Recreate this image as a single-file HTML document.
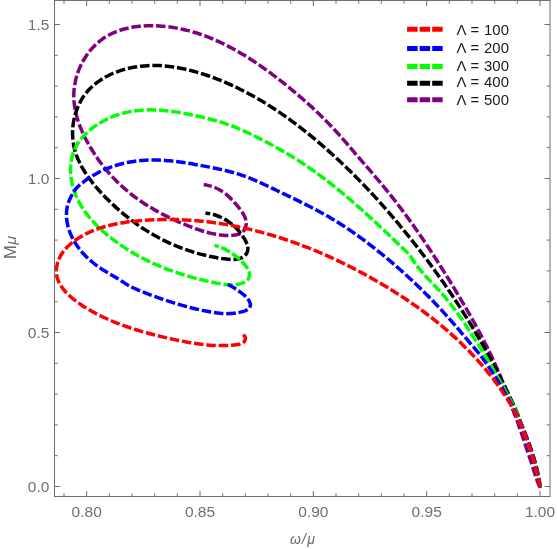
<!DOCTYPE html>
<html><head><meta charset="utf-8"><title>plot</title>
<style>html,body{margin:0;padding:0;background:#fff;}body{width:557px;height:549px;position:relative;overflow:hidden;font-family:"Liberation Sans",sans-serif;}</style></head>
<body>
<svg width="557" height="549" viewBox="0 0 557 549" style="position:absolute;left:0;top:0;will-change:transform">
<rect x="0" y="0" width="557" height="549" fill="#fff"/>
<clipPath id="c"><rect x="54.5" y="0.5" width="495.5" height="496.0"/></clipPath>
<g clip-path="url(#c)" fill="none" stroke-width="3.5" stroke-dasharray="9.53 2.84" stroke-linejoin="round">
<path d="M539.90,487.60C539.65,486.98 538.89,485.11 538.40,483.86C537.91,482.61 537.42,481.36 536.96,480.10C536.49,478.84 536.06,477.57 535.62,476.29C535.19,475.02 534.76,473.75 534.36,472.47C533.95,471.19 533.58,469.90 533.20,468.61C532.82,467.32 532.45,466.03 532.06,464.74C531.66,463.46 531.24,462.18 530.81,460.91C530.38,459.64 529.93,458.37 529.49,457.10C529.05,455.83 528.62,454.56 528.18,453.29C527.75,452.02 527.32,450.75 526.89,449.48C526.46,448.20 526.03,446.93 525.61,445.65C525.18,444.38 524.76,443.11 524.33,441.83C523.91,440.56 523.48,439.28 523.06,438.01C522.64,436.73 522.22,435.46 521.80,434.18C521.37,432.91 520.94,431.63 520.51,430.36C520.07,429.09 519.62,427.83 519.17,426.56C518.73,425.29 518.28,424.03 517.82,422.76C517.36,421.50 516.90,420.24 516.43,418.98C515.95,417.73 515.46,416.48 514.97,415.22C514.49,413.97 513.99,412.73 513.50,411.47C513.02,410.22 512.53,408.97 512.07,407.71C511.60,406.45 511.16,405.18 510.71,403.91C510.26,402.65 509.82,401.38 509.37,400.11C508.92,398.85 508.46,397.58 508.01,396.32C507.55,395.06 507.09,393.79 506.62,392.53C506.16,391.27 505.69,390.01 505.22,388.76C504.74,387.50 504.27,386.24 503.78,384.99C503.30,383.74 502.81,382.49 502.32,381.24C501.83,379.99 501.33,378.74 500.82,377.49C500.32,376.25 499.81,375.01 499.29,373.77C498.78,372.53 498.26,371.29 497.73,370.05C497.20,368.82 496.67,367.58 496.13,366.35C495.58,365.13 495.04,363.90 494.49,362.67C493.93,361.45 493.38,360.23 492.81,359.01C492.25,357.79 491.68,356.57 491.10,355.36C490.53,354.14 489.95,352.93 489.36,351.72C488.78,350.51 488.19,349.31 487.59,348.10C487.00,346.90 486.40,345.70 485.79,344.50C485.19,343.30 484.58,342.10 483.97,340.90C483.35,339.71 482.74,338.52 482.11,337.33C481.49,336.14 480.87,334.95 480.24,333.76C479.61,332.57 478.97,331.39 478.33,330.21C477.70,329.03 477.05,327.84 476.41,326.67C475.77,325.49 475.12,324.31 474.47,323.14C473.81,321.96 473.16,320.79 472.50,319.62C471.84,318.45 471.18,317.28 470.52,316.11C469.86,314.94 469.19,313.77 468.52,312.61C467.85,311.44 467.18,310.28 466.51,309.12C465.83,307.96 465.16,306.79 464.48,305.63C463.80,304.48 463.12,303.32 462.44,302.16C461.76,301.00 461.07,299.85 460.39,298.69C459.70,297.54 459.01,296.38 458.33,295.23C457.64,294.08 456.95,292.92 456.25,291.77C455.56,290.62 454.87,289.47 454.17,288.32C453.48,287.17 452.78,286.02 452.08,284.87C451.39,283.73 450.69,282.58 449.99,281.43C449.28,280.29 448.58,279.14 447.88,278.00C447.17,276.86 446.47,275.71 445.76,274.57C445.05,273.43 444.34,272.29 443.63,271.15C442.91,270.01 442.20,268.87 441.48,267.74C440.77,266.60 440.05,265.47 439.33,264.33C438.61,263.20 437.89,262.07 437.16,260.93C436.44,259.80 435.71,258.67 434.99,257.54C434.26,256.41 433.53,255.29 432.79,254.16C432.06,253.04 431.33,251.91 430.59,250.79C429.85,249.67 429.11,248.55 428.37,247.43C427.63,246.31 426.88,245.19 426.13,244.07C425.39,242.96 424.64,241.84 423.89,240.73C423.13,239.61 422.38,238.50 421.62,237.39C420.86,236.28 420.10,235.18 419.34,234.07C418.58,232.96 417.81,231.86 417.05,230.76C416.28,229.66 415.51,228.56 414.73,227.46C413.96,226.36 413.18,225.26 412.40,224.17C411.62,223.08 410.84,221.98 410.06,220.89C409.27,219.80 408.48,218.72 407.69,217.63C406.90,216.55 406.10,215.46 405.31,214.38C404.51,213.30 403.71,212.22 402.91,211.15C402.10,210.07 401.30,208.99 400.49,207.92C399.68,206.85 398.86,205.78 398.05,204.72C397.23,203.65 396.41,202.58 395.59,201.52C394.76,200.46 393.94,199.40 393.11,198.35C392.28,197.29 391.44,196.24 390.61,195.19C389.77,194.13 388.93,193.09 388.09,192.04C387.24,191.00 386.40,189.95 385.54,188.91C384.69,187.87 383.84,186.84 382.98,185.80C382.13,184.77 381.26,183.74 380.40,182.71C379.54,181.68 378.67,180.65 377.81,179.62C376.94,178.60 376.07,177.58 375.20,176.55C374.33,175.53 373.45,174.51 372.58,173.49C371.70,172.47 370.83,171.45 369.95,170.44C369.07,169.42 368.19,168.40 367.31,167.39C366.43,166.37 365.56,165.36 364.68,164.34C363.80,163.33 362.92,162.31 362.04,161.30C361.16,160.28 360.28,159.26 359.40,158.25C358.52,157.23 357.64,156.22 356.76,155.20C355.89,154.18 355.01,153.16 354.13,152.15C353.26,151.13 352.39,150.11 351.51,149.08C350.64,148.06 349.77,147.04 348.89,146.02C348.02,145.00 347.14,143.98 346.27,142.96C345.39,141.95 344.51,140.93 343.63,139.92C342.75,138.90 341.87,137.89 340.98,136.89C340.09,135.88 339.19,134.87 338.30,133.88C337.40,132.88 336.49,131.88 335.58,130.89C334.68,129.91 333.76,128.92 332.84,127.94C331.92,126.96 331.00,125.99 330.07,125.02C329.14,124.05 328.20,123.08 327.26,122.12C326.32,121.16 325.38,120.21 324.43,119.26C323.48,118.31 322.53,117.36 321.57,116.42C320.61,115.48 319.65,114.54 318.68,113.61C317.71,112.68 316.74,111.75 315.76,110.83C314.79,109.91 313.81,108.99 312.82,108.08C311.84,107.16 310.85,106.25 309.85,105.35C308.86,104.44 307.86,103.54 306.86,102.65C305.86,101.75 304.86,100.86 303.85,99.97C302.84,99.09 301.83,98.20 300.81,97.33C299.79,96.45 298.77,95.57 297.75,94.70C296.73,93.83 295.70,92.97 294.67,92.10C293.64,91.24 292.61,90.38 291.57,89.53C290.53,88.68 289.49,87.83 288.45,86.98C287.41,86.13 286.36,85.29 285.31,84.45C284.26,83.62 283.21,82.78 282.15,81.95C281.10,81.12 280.04,80.29 278.98,79.47C277.92,78.64 276.85,77.82 275.78,77.01C274.72,76.19 273.64,75.38 272.57,74.58C271.49,73.77 270.42,72.97 269.33,72.17C268.25,71.38 267.17,70.59 266.08,69.80C264.99,69.02 263.89,68.23 262.80,67.46C261.70,66.69 260.60,65.92 259.49,65.15C258.39,64.39 257.28,63.63 256.16,62.88C255.05,62.13 253.93,61.39 252.81,60.65C251.68,59.92 250.56,59.19 249.42,58.46C248.29,57.74 247.15,57.03 246.01,56.32C244.87,55.61 243.72,54.91 242.57,54.22C241.42,53.53 240.26,52.84 239.10,52.17C237.94,51.50 236.77,50.83 235.60,50.17C234.43,49.52 233.25,48.87 232.07,48.23C230.89,47.59 229.70,46.96 228.51,46.35C227.32,45.73 226.12,45.12 224.91,44.52C223.71,43.93 222.50,43.34 221.29,42.76C220.07,42.19 218.85,41.63 217.63,41.07C216.41,40.52 215.18,39.98 213.94,39.45C212.71,38.93 211.46,38.41 210.22,37.91C208.97,37.40 207.72,36.91 206.47,36.44C205.21,35.96 203.95,35.50 202.68,35.05C201.42,34.60 200.15,34.17 198.87,33.75C197.59,33.33 196.31,32.92 195.03,32.53C193.74,32.14 192.45,31.77 191.16,31.41C189.86,31.05 188.56,30.70 187.26,30.38C185.96,30.05 184.65,29.74 183.34,29.44C182.03,29.15 180.72,28.87 179.40,28.61C178.08,28.35 176.76,28.10 175.44,27.88C174.11,27.65 172.78,27.44 171.45,27.25C170.13,27.06 168.79,26.89 167.46,26.73C166.12,26.58 164.79,26.44 163.45,26.32C162.11,26.20 160.77,26.10 159.43,26.02C158.09,25.94 156.75,25.88 155.41,25.83C154.06,25.79 152.72,25.77 151.38,25.77C150.03,25.77 148.69,25.78 147.35,25.83C146.00,25.87 144.66,25.93 143.32,26.02C141.98,26.10 140.64,26.21 139.31,26.35C137.97,26.48 136.63,26.64 135.30,26.83C133.98,27.02 132.65,27.23 131.33,27.47C130.01,27.72 128.69,27.98 127.38,28.29C126.07,28.59 124.77,28.91 123.47,29.28C122.18,29.64 120.90,30.03 119.62,30.46C118.35,30.89 117.09,31.35 115.84,31.85C114.59,32.34 113.36,32.88 112.14,33.44C110.92,34.01 109.72,34.62 108.54,35.26C107.37,35.91 106.20,36.59 105.07,37.31C103.94,38.02 102.83,38.78 101.74,39.58C100.66,40.37 99.60,41.20 98.58,42.07C97.55,42.93 96.55,43.83 95.58,44.76C94.61,45.69 93.67,46.65 92.76,47.64C91.85,48.63 90.97,49.64 90.12,50.68C89.27,51.72 88.45,52.79 87.66,53.88C86.87,54.96 86.11,56.07 85.38,57.20C84.66,58.33 83.96,59.48 83.30,60.65C82.63,61.82 82.00,63.00 81.40,64.20C80.80,65.41 80.24,66.63 79.70,67.86C79.17,69.09 78.67,70.34 78.20,71.60C77.74,72.86 77.31,74.13 76.91,75.41C76.51,76.70 76.15,77.99 75.83,79.30C75.50,80.60 75.21,81.91 74.97,83.23C74.72,84.55 74.50,85.88 74.33,87.21C74.16,88.54 74.03,89.88 73.94,91.22C73.85,92.56 73.80,93.90 73.79,95.25C73.78,96.59 73.81,97.93 73.88,99.28C73.95,100.62 74.05,101.96 74.20,103.29C74.34,104.63 74.52,105.96 74.73,107.29C74.94,108.61 75.19,109.93 75.46,111.25C75.74,112.56 76.05,113.87 76.39,115.17C76.72,116.47 77.09,117.77 77.48,119.05C77.87,120.33 78.29,121.61 78.73,122.88C79.17,124.15 79.64,125.41 80.13,126.66C80.62,127.91 81.13,129.15 81.66,130.39C82.19,131.62 82.74,132.85 83.31,134.06C83.88,135.28 84.47,136.49 85.07,137.69C85.68,138.89 86.30,140.08 86.93,141.26C87.57,142.44 88.22,143.62 88.89,144.78C89.56,145.95 90.24,147.11 90.93,148.26C91.63,149.41 92.33,150.55 93.05,151.69C93.77,152.82 94.50,153.95 95.25,155.07C95.99,156.18 96.75,157.29 97.52,158.40C98.29,159.50 99.07,160.59 99.87,161.67C100.66,162.75 101.47,163.83 102.29,164.89C103.11,165.96 103.94,167.01 104.78,168.06C105.63,169.10 106.49,170.13 107.36,171.16C108.22,172.18 109.11,173.20 110.00,174.20C110.89,175.20 111.80,176.20 112.72,177.18C113.63,178.16 114.56,179.13 115.50,180.09C116.44,181.05 117.40,181.99 118.36,182.93C119.32,183.87 120.30,184.79 121.28,185.70C122.27,186.61 123.27,187.51 124.28,188.40C125.28,189.29 126.30,190.17 127.33,191.03C128.36,191.89 129.40,192.74 130.45,193.58C131.50,194.42 132.56,195.24 133.63,196.06C134.70,196.87 135.78,197.67 136.87,198.45C137.96,199.24 139.06,200.02 140.16,200.78C141.27,201.54 142.38,202.29 143.50,203.03C144.63,203.77 145.76,204.50 146.89,205.21C148.03,205.93 149.17,206.63 150.32,207.32C151.47,208.02 152.63,208.70 153.80,209.37C154.96,210.04 156.13,210.70 157.30,211.35C158.48,212.00 159.66,212.64 160.85,213.27C162.03,213.91 163.22,214.53 164.42,215.14C165.62,215.75 166.82,216.35 168.02,216.94C169.23,217.53 170.44,218.12 171.65,218.69C172.87,219.26 174.09,219.83 175.31,220.38C176.53,220.94 177.76,221.49 178.99,222.03C180.22,222.57 181.46,223.10 182.69,223.62C183.93,224.14 185.17,224.66 186.41,225.17C187.66,225.67 188.91,226.17 190.16,226.66C191.41,227.15 192.66,227.63 193.92,228.10C195.18,228.56 196.45,229.02 197.72,229.46C198.99,229.89 200.26,230.32 201.54,230.72C202.82,231.13 204.11,231.51 205.40,231.88C206.69,232.24 207.99,232.59 209.30,232.91C210.60,233.23 211.91,233.52 213.23,233.79C214.55,234.06 215.87,234.30 217.19,234.52C218.52,234.73 219.85,234.92 221.19,235.07C222.52,235.22 223.86,235.35 225.20,235.43C226.54,235.52 227.88,235.57 229.23,235.55C230.57,235.53 231.92,235.47 233.25,235.32C234.58,235.17 235.93,234.99 237.22,234.64C238.50,234.28 239.84,233.88 240.96,233.19C242.08,232.50 243.15,231.56 243.94,230.52C244.73,229.47 245.32,228.18 245.70,226.92C246.08,225.65 246.25,224.26 246.22,222.94C246.20,221.62 245.91,220.26 245.53,218.98C245.16,217.70 244.59,216.46 243.98,215.27C243.37,214.07 242.64,212.93 241.90,211.82C241.16,210.70 240.34,209.63 239.52,208.57C238.70,207.50 237.84,206.47 236.98,205.44C236.12,204.41 235.24,203.39 234.35,202.39C233.45,201.39 232.54,200.40 231.60,199.44C230.67,198.48 229.71,197.53 228.72,196.62C227.73,195.71 226.72,194.83 225.67,193.99C224.62,193.15 223.54,192.35 222.43,191.60C221.32,190.85 220.17,190.14 218.99,189.50C217.82,188.85 216.60,188.26 215.37,187.74C214.13,187.21 212.87,186.75 211.59,186.35C210.30,185.95 209.00,185.62 207.68,185.35C206.37,185.08 204.37,184.83 203.70,184.72" stroke="#800080"/>
<path d="M539.90,487.60C539.86,486.93 539.81,484.91 539.68,483.58C539.56,482.24 539.35,480.91 539.12,479.59C538.89,478.27 538.59,476.96 538.31,475.64C538.04,474.33 537.77,473.01 537.47,471.70C537.17,470.39 536.86,469.09 536.53,467.79C536.20,466.48 535.85,465.19 535.50,463.89C535.15,462.59 534.80,461.30 534.43,460.01C534.05,458.72 533.68,457.43 533.28,456.15C532.89,454.86 532.47,453.58 532.05,452.31C531.63,451.03 531.20,449.76 530.76,448.49C530.32,447.22 529.87,445.96 529.41,444.70C528.95,443.44 528.48,442.18 528.01,440.92C527.53,439.66 527.05,438.41 526.57,437.16C526.08,435.91 525.58,434.66 525.09,433.41C524.59,432.16 524.10,430.91 523.61,429.66C523.12,428.41 522.64,427.16 522.15,425.91C521.67,424.65 521.17,423.41 520.68,422.15C520.20,420.90 519.72,419.65 519.24,418.39C518.77,417.14 518.30,415.88 517.81,414.62C517.32,413.37 516.83,412.12 516.31,410.89C515.78,409.65 515.22,408.43 514.66,407.21C514.10,405.99 513.54,404.77 512.97,403.56C512.40,402.34 511.83,401.12 511.26,399.91C510.69,398.69 510.11,397.48 509.54,396.27C508.96,395.05 508.38,393.84 507.80,392.63C507.21,391.42 506.63,390.21 506.04,389.01C505.45,387.80 504.86,386.59 504.26,385.39C503.67,384.19 503.07,382.98 502.47,381.78C501.87,380.58 501.27,379.38 500.66,378.18C500.05,376.98 499.44,375.79 498.83,374.59C498.22,373.40 497.60,372.20 496.99,371.01C496.37,369.82 495.75,368.63 495.12,367.44C494.50,366.25 493.87,365.06 493.24,363.88C492.61,362.69 491.97,361.51 491.34,360.33C490.70,359.14 490.06,357.96 489.42,356.78C488.77,355.61 488.13,354.43 487.48,353.25C486.83,352.08 486.18,350.90 485.52,349.73C484.86,348.56 484.21,347.39 483.54,346.22C482.88,345.05 482.22,343.89 481.55,342.72C480.88,341.56 480.21,340.39 479.54,339.23C478.86,338.07 478.19,336.91 477.51,335.75C476.83,334.59 476.14,333.44 475.46,332.28C474.77,331.13 474.08,329.98 473.39,328.82C472.70,327.67 472.00,326.52 471.30,325.38C470.61,324.23 469.91,323.08 469.20,321.94C468.50,320.80 467.79,319.65 467.08,318.51C466.37,317.37 465.66,316.24 464.95,315.10C464.23,313.96 463.51,312.83 462.79,311.69C462.07,310.56 461.35,309.43 460.62,308.30C459.89,307.17 459.16,306.04 458.43,304.92C457.70,303.79 456.96,302.67 456.23,301.55C455.49,300.42 454.75,299.30 454.00,298.18C453.26,297.07 452.52,295.95 451.77,294.83C451.02,293.72 450.27,292.61 449.51,291.50C448.76,290.38 448.00,289.28 447.24,288.17C446.48,287.06 445.72,285.96 444.95,284.85C444.19,283.75 443.42,282.65 442.65,281.55C441.88,280.45 441.11,279.35 440.33,278.25C439.56,277.15 438.78,276.06 438.00,274.97C437.22,273.88 436.43,272.78 435.65,271.70C434.86,270.61 434.07,269.52 433.28,268.43C432.49,267.35 431.70,266.27 430.90,265.18C430.10,264.10 429.30,263.02 428.50,261.95C427.70,260.87 426.90,259.79 426.09,258.72C425.29,257.65 424.48,256.57 423.66,255.50C422.85,254.43 422.04,253.36 421.22,252.30C420.41,251.23 419.59,250.17 418.77,249.11C417.94,248.04 417.12,246.98 416.29,245.92C415.47,244.86 414.64,243.81 413.81,242.75C412.98,241.70 412.14,240.65 411.31,239.59C410.47,238.54 409.63,237.49 408.79,236.45C407.95,235.40 407.11,234.35 406.26,233.31C405.42,232.27 404.57,231.23 403.72,230.19C402.87,229.15 402.02,228.11 401.16,227.07C400.31,226.04 399.45,225.00 398.59,223.97C397.73,222.94 396.87,221.91 396.00,220.89C395.14,219.86 394.27,218.83 393.40,217.81C392.53,216.79 391.66,215.77 390.78,214.75C389.91,213.73 389.03,212.71 388.15,211.70C387.27,210.68 386.38,209.67 385.50,208.66C384.61,207.65 383.72,206.65 382.83,205.64C381.94,204.64 381.05,203.64 380.15,202.64C379.26,201.64 378.36,200.64 377.45,199.64C376.55,198.65 375.65,197.66 374.74,196.67C373.83,195.68 372.92,194.69 372.01,193.70C371.10,192.72 370.18,191.74 369.26,190.76C368.34,189.78 367.42,188.80 366.50,187.83C365.57,186.85 364.65,185.88 363.72,184.91C362.79,183.94 361.85,182.98 360.92,182.01C359.98,181.05 359.04,180.09 358.10,179.13C357.16,178.17 356.22,177.22 355.27,176.27C354.32,175.32 353.37,174.37 352.42,173.42C351.46,172.48 350.51,171.53 349.55,170.59C348.59,169.65 347.63,168.72 346.66,167.78C345.70,166.85 344.73,165.92 343.76,164.99C342.78,164.06 341.81,163.14 340.83,162.22C339.86,161.30 338.87,160.38 337.89,159.47C336.91,158.55 335.92,157.64 334.93,156.73C333.94,155.82 332.95,154.92 331.95,154.02C330.96,153.12 329.96,152.22 328.96,151.33C327.95,150.43 326.95,149.54 325.94,148.66C324.93,147.77 323.92,146.88 322.91,146.00C321.89,145.12 320.87,144.25 319.85,143.38C318.83,142.50 317.81,141.63 316.78,140.77C315.75,139.90 314.72,139.04 313.69,138.19C312.66,137.33 311.62,136.47 310.58,135.63C309.54,134.78 308.50,133.93 307.45,133.09C306.40,132.25 305.35,131.41 304.30,130.58C303.24,129.75 302.18,128.92 301.12,128.10C300.06,127.28 299.00,126.46 297.93,125.64C296.86,124.83 295.79,124.02 294.71,123.22C293.64,122.41 292.56,121.61 291.47,120.82C290.39,120.03 289.30,119.24 288.21,118.45C287.12,117.67 286.03,116.89 284.93,116.12C283.83,115.35 282.73,114.58 281.62,113.82C280.52,113.06 279.41,112.30 278.29,111.55C277.18,110.80 276.06,110.06 274.94,109.32C273.82,108.58 272.69,107.85 271.56,107.12C270.43,106.40 269.30,105.68 268.16,104.96C267.02,104.25 265.88,103.54 264.73,102.84C263.59,102.14 262.44,101.45 261.28,100.76C260.13,100.08 258.97,99.40 257.81,98.72C256.65,98.05 255.48,97.39 254.31,96.73C253.14,96.07 251.96,95.42 250.79,94.78C249.61,94.13 248.42,93.50 247.24,92.87C246.05,92.24 244.86,91.62 243.66,91.01C242.47,90.40 241.27,89.79 240.06,89.19C238.86,88.60 237.65,88.01 236.44,87.43C235.23,86.85 234.02,86.28 232.80,85.72C231.58,85.16 230.35,84.60 229.13,84.06C227.90,83.51 226.67,82.98 225.43,82.45C224.20,81.92 222.96,81.41 221.71,80.90C220.47,80.39 219.22,79.89 217.97,79.40C216.72,78.91 215.47,78.43 214.21,77.96C212.95,77.49 211.69,77.03 210.43,76.58C209.16,76.13 207.89,75.69 206.62,75.26C205.35,74.83 204.07,74.41 202.79,74.00C201.51,73.59 200.23,73.19 198.94,72.81C197.66,72.42 196.37,72.04 195.08,71.68C193.78,71.32 192.49,70.97 191.19,70.63C189.89,70.30 188.58,69.97 187.28,69.66C185.97,69.35 184.66,69.06 183.34,68.78C182.03,68.50 180.71,68.24 179.39,67.99C178.07,67.74 176.75,67.51 175.43,67.30C174.10,67.08 172.77,66.88 171.44,66.70C170.11,66.53 168.78,66.36 167.44,66.22C166.11,66.08 164.77,65.96 163.43,65.86C162.09,65.75 160.75,65.67 159.41,65.61C158.07,65.55 156.72,65.51 155.38,65.49C154.04,65.47 152.69,65.48 151.35,65.50C150.01,65.53 148.67,65.58 147.33,65.65C145.99,65.73 144.65,65.82 143.31,65.95C141.97,66.07 140.64,66.21 139.30,66.38C137.97,66.55 136.64,66.75 135.32,66.97C133.99,67.19 132.67,67.44 131.36,67.71C130.04,67.98 128.73,68.28 127.43,68.60C126.13,68.92 124.83,69.27 123.54,69.65C122.25,70.02 120.97,70.42 119.69,70.85C118.42,71.28 117.16,71.73 115.90,72.21C114.65,72.70 113.41,73.20 112.18,73.74C110.95,74.28 109.73,74.85 108.53,75.45C107.32,76.04 106.13,76.67 104.96,77.32C103.79,77.98 102.64,78.67 101.50,79.39C100.37,80.10 99.25,80.85 98.16,81.64C97.07,82.42 96.00,83.23 94.96,84.08C93.92,84.93 92.90,85.81 91.92,86.72C90.93,87.63 89.98,88.58 89.06,89.56C88.14,90.54 87.25,91.55 86.41,92.59C85.56,93.63 84.75,94.71 83.98,95.81C83.21,96.91 82.48,98.04 81.79,99.19C81.10,100.34 80.45,101.51 79.83,102.71C79.22,103.90 78.64,105.12 78.11,106.35C77.57,107.58 77.08,108.83 76.62,110.09C76.16,111.35 75.74,112.63 75.36,113.92C74.99,115.21 74.64,116.51 74.34,117.82C74.04,119.12 73.78,120.44 73.55,121.77C73.33,123.09 73.14,124.42 73.00,125.76C72.85,127.09 72.75,128.43 72.68,129.77C72.61,131.11 72.59,132.46 72.60,133.80C72.61,135.14 72.66,136.48 72.76,137.82C72.85,139.16 72.99,140.50 73.17,141.83C73.34,143.16 73.56,144.49 73.82,145.81C74.08,147.12 74.39,148.43 74.73,149.73C75.08,151.03 75.47,152.31 75.89,153.59C76.31,154.86 76.77,156.13 77.26,157.37C77.76,158.62 78.29,159.86 78.85,161.08C79.40,162.30 79.99,163.51 80.61,164.70C81.23,165.89 81.87,167.07 82.54,168.24C83.21,169.40 83.91,170.55 84.62,171.69C85.34,172.82 86.08,173.94 86.83,175.05C87.59,176.16 88.37,177.26 89.16,178.34C89.95,179.42 90.77,180.50 91.59,181.55C92.42,182.61 93.26,183.66 94.11,184.70C94.97,185.73 95.83,186.76 96.71,187.77C97.59,188.79 98.48,189.80 99.38,190.79C100.28,191.79 101.19,192.78 102.11,193.75C103.03,194.73 103.96,195.70 104.89,196.67C105.83,197.63 106.77,198.59 107.72,199.54C108.67,200.49 109.63,201.43 110.60,202.36C111.56,203.30 112.53,204.22 113.51,205.14C114.49,206.06 115.48,206.97 116.48,207.87C117.47,208.77 118.48,209.66 119.49,210.55C120.50,211.43 121.52,212.31 122.54,213.17C123.57,214.04 124.60,214.90 125.65,215.74C126.69,216.59 127.74,217.43 128.79,218.25C129.85,219.08 130.92,219.90 131.99,220.71C133.06,221.52 134.14,222.31 135.23,223.10C136.32,223.89 137.42,224.66 138.52,225.43C139.62,226.19 140.73,226.95 141.85,227.69C142.97,228.44 144.10,229.17 145.23,229.89C146.36,230.61 147.50,231.32 148.65,232.02C149.80,232.72 150.95,233.40 152.11,234.08C153.27,234.75 154.44,235.41 155.62,236.07C156.79,236.72 157.97,237.35 159.16,237.98C160.35,238.61 161.54,239.22 162.74,239.82C163.95,240.42 165.15,241.01 166.37,241.59C167.58,242.17 168.80,242.73 170.02,243.28C171.25,243.83 172.48,244.37 173.71,244.90C174.95,245.42 176.19,245.94 177.43,246.44C178.68,246.94 179.93,247.43 181.19,247.91C182.44,248.38 183.70,248.85 184.97,249.30C186.23,249.75 187.50,250.18 188.78,250.61C190.05,251.03 191.33,251.44 192.61,251.84C193.89,252.24 195.18,252.63 196.47,253.00C197.76,253.37 199.06,253.73 200.35,254.08C201.65,254.42 202.95,254.75 204.26,255.07C205.56,255.39 206.87,255.69 208.18,255.98C209.49,256.27 210.81,256.55 212.12,256.81C213.44,257.07 214.76,257.32 216.08,257.56C217.41,257.79 218.73,258.01 220.06,258.21C221.39,258.42 222.72,258.61 224.05,258.78C225.38,258.95 226.71,259.13 228.05,259.25C229.39,259.36 230.73,259.48 232.07,259.48C233.41,259.48 234.76,259.44 236.09,259.25C237.41,259.07 238.76,258.82 240.02,258.39C241.28,257.96 242.58,257.43 243.65,256.67C244.72,255.90 245.74,254.90 246.43,253.80C247.12,252.70 247.60,251.33 247.80,250.04C247.99,248.75 247.84,247.34 247.58,246.04C247.31,244.74 246.76,243.48 246.22,242.26C245.68,241.03 244.99,239.86 244.31,238.71C243.63,237.55 242.90,236.42 242.13,235.32C241.37,234.22 240.56,233.14 239.71,232.10C238.87,231.06 237.99,230.04 237.07,229.06C236.15,228.08 235.19,227.14 234.21,226.23C233.22,225.32 232.20,224.44 231.14,223.61C230.09,222.78 229.01,221.98 227.89,221.23C226.78,220.49 225.63,219.78 224.47,219.12C223.30,218.46 222.10,217.84 220.88,217.28C219.66,216.72 218.42,216.20 217.16,215.74C215.90,215.28 214.62,214.87 213.32,214.52C212.03,214.17 210.71,213.88 209.39,213.64C208.07,213.41 206.06,213.20 205.40,213.11" stroke="#000000"/>
<path d="M539.90,487.60C539.86,486.93 539.79,484.92 539.65,483.59C539.51,482.25 539.30,480.93 539.06,479.61C538.83,478.29 538.52,476.98 538.24,475.67C537.97,474.36 537.70,473.04 537.40,471.74C537.11,470.43 536.80,469.12 536.47,467.82C536.15,466.52 535.81,465.22 535.46,463.93C535.12,462.63 534.77,461.34 534.41,460.05C534.04,458.76 533.67,457.47 533.28,456.18C532.90,454.90 532.49,453.62 532.08,452.35C531.67,451.07 531.24,449.80 530.80,448.53C530.37,447.26 529.92,446.00 529.47,444.74C529.01,443.48 528.55,442.22 528.07,440.96C527.60,439.71 527.12,438.46 526.63,437.21C526.14,435.96 525.64,434.72 525.14,433.47C524.64,432.23 524.13,430.99 523.63,429.74C523.13,428.50 522.64,427.25 522.13,426.01C521.63,424.77 521.11,423.53 520.60,422.29C520.09,421.05 519.58,419.81 519.07,418.57C518.56,417.33 518.07,416.08 517.54,414.85C517.02,413.62 516.49,412.38 515.92,411.17C515.36,409.95 514.75,408.76 514.15,407.56C513.55,406.36 512.93,405.17 512.32,403.97C511.71,402.78 511.09,401.59 510.46,400.41C509.84,399.22 509.21,398.03 508.58,396.85C507.95,395.67 507.32,394.49 506.68,393.31C506.04,392.13 505.40,390.95 504.75,389.77C504.11,388.60 503.46,387.43 502.81,386.25C502.15,385.08 501.50,383.91 500.84,382.75C500.18,381.58 499.52,380.41 498.86,379.25C498.19,378.08 497.52,376.92 496.85,375.76C496.19,374.59 495.51,373.43 494.84,372.27C494.17,371.12 493.49,369.96 492.81,368.80C492.13,367.64 491.45,366.49 490.77,365.34C490.09,364.18 489.40,363.03 488.72,361.88C488.03,360.72 487.34,359.57 486.66,358.42C485.97,357.27 485.28,356.12 484.59,354.97C483.89,353.82 483.20,352.67 482.51,351.53C481.81,350.38 481.12,349.23 480.42,348.09C479.72,346.95 479.02,345.80 478.31,344.66C477.61,343.52 476.90,342.38 476.19,341.24C475.48,340.11 474.77,338.97 474.06,337.84C473.34,336.70 472.62,335.57 471.90,334.44C471.17,333.31 470.44,332.19 469.71,331.06C468.98,329.94 468.24,328.82 467.50,327.70C466.76,326.58 466.02,325.47 465.27,324.36C464.52,323.25 463.76,322.14 463.00,321.04C462.24,319.93 461.47,318.83 460.70,317.74C459.92,316.64 459.15,315.55 458.36,314.46C457.58,313.37 456.79,312.29 455.99,311.21C455.19,310.14 454.39,309.06 453.58,307.99C452.77,306.93 451.95,305.86 451.12,304.81C450.30,303.75 449.47,302.70 448.63,301.65C447.79,300.60 446.94,299.56 446.09,298.53C445.24,297.50 444.37,296.47 443.50,295.45C442.64,294.43 441.76,293.41 440.87,292.41C439.99,291.40 439.09,290.40 438.19,289.41C437.29,288.42 436.38,287.43 435.46,286.45C434.55,285.47 433.62,284.50 432.70,283.53C431.77,282.56 430.84,281.59 429.92,280.62C428.99,279.65 428.07,278.68 427.15,277.71C426.23,276.73 425.32,275.75 424.41,274.76C423.51,273.76 422.61,272.77 421.73,271.75C420.86,270.74 419.99,269.72 419.14,268.68C418.30,267.64 417.47,266.58 416.67,265.51C415.87,264.43 415.08,263.34 414.34,262.23C413.60,261.11 412.94,259.94 412.20,258.82C411.46,257.70 410.74,256.57 409.91,255.52C409.08,254.47 408.14,253.51 407.21,252.54C406.28,251.58 405.29,250.67 404.33,249.74C403.36,248.80 402.39,247.88 401.42,246.95C400.45,246.02 399.49,245.10 398.52,244.17C397.55,243.24 396.58,242.31 395.61,241.39C394.64,240.46 393.67,239.53 392.70,238.61C391.73,237.68 390.76,236.76 389.79,235.83C388.82,234.91 387.85,233.98 386.88,233.06C385.90,232.14 384.93,231.22 383.96,230.30C382.98,229.37 382.01,228.45 381.03,227.54C380.05,226.62 379.07,225.70 378.09,224.78C377.12,223.87 376.13,222.95 375.15,222.04C374.17,221.13 373.19,220.22 372.20,219.31C371.22,218.40 370.23,217.49 369.24,216.58C368.25,215.68 367.26,214.77 366.27,213.87C365.28,212.97 364.28,212.07 363.29,211.17C362.29,210.27 361.29,209.38 360.29,208.49C359.29,207.59 358.29,206.70 357.28,205.82C356.28,204.93 355.27,204.04 354.26,203.16C353.25,202.28 352.24,201.40 351.23,200.52C350.21,199.65 349.19,198.77 348.17,197.90C347.15,197.03 346.13,196.17 345.10,195.30C344.08,194.44 343.05,193.58 342.02,192.73C340.98,191.87 339.95,191.02 338.91,190.17C337.87,189.32 336.83,188.47 335.79,187.63C334.74,186.79 333.69,185.96 332.64,185.12C331.59,184.29 330.54,183.46 329.48,182.64C328.42,181.82 327.36,181.00 326.29,180.18C325.23,179.37 324.16,178.56 323.09,177.75C322.02,176.95 320.94,176.15 319.86,175.35C318.78,174.56 317.70,173.77 316.61,172.98C315.52,172.20 314.43,171.42 313.33,170.65C312.24,169.87 311.14,169.11 310.04,168.34C308.93,167.58 307.83,166.83 306.72,166.07C305.60,165.32 304.49,164.58 303.37,163.84C302.25,163.10 301.13,162.37 300.00,161.64C298.88,160.91 297.75,160.19 296.61,159.47C295.48,158.76 294.34,158.05 293.20,157.34C292.06,156.63 290.92,155.93 289.77,155.24C288.62,154.55 287.47,153.86 286.32,153.17C285.17,152.49 284.01,151.81 282.85,151.14C281.69,150.46 280.53,149.80 279.36,149.14C278.20,148.47 277.03,147.82 275.86,147.16C274.68,146.51 273.51,145.87 272.33,145.22C271.15,144.58 269.97,143.95 268.79,143.32C267.61,142.68 266.42,142.06 265.23,141.44C264.05,140.82 262.85,140.20 261.66,139.59C260.47,138.98 259.27,138.37 258.07,137.77C256.87,137.17 255.67,136.57 254.47,135.98C253.27,135.39 252.06,134.81 250.85,134.23C249.64,133.65 248.43,133.08 247.21,132.52C245.99,131.95 244.77,131.40 243.55,130.85C242.32,130.30 241.10,129.76 239.86,129.24C238.63,128.71 237.39,128.19 236.15,127.68C234.91,127.17 233.67,126.68 232.42,126.19C231.17,125.71 229.91,125.24 228.65,124.78C227.39,124.32 226.12,123.88 224.85,123.45C223.58,123.02 222.31,122.60 221.03,122.20C219.75,121.80 218.46,121.42 217.18,121.04C215.89,120.67 214.60,120.31 213.30,119.96C212.01,119.61 210.71,119.27 209.41,118.94C208.11,118.61 206.81,118.29 205.51,117.98C204.20,117.67 202.90,117.36 201.59,117.06C200.28,116.75 198.98,116.46 197.67,116.17C196.36,115.87 195.05,115.59 193.74,115.31C192.43,115.03 191.11,114.75 189.80,114.48C188.49,114.22 187.17,113.96 185.85,113.70C184.54,113.45 183.22,113.21 181.90,112.98C180.58,112.74 179.26,112.52 177.93,112.30C176.61,112.09 175.28,111.89 173.96,111.70C172.63,111.51 171.30,111.33 169.97,111.16C168.64,111.00 167.31,110.85 165.97,110.71C164.64,110.57 163.30,110.45 161.97,110.34C160.63,110.24 159.29,110.14 157.95,110.07C156.61,110.00 155.27,109.94 153.93,109.91C152.59,109.87 151.25,109.85 149.91,109.85C148.57,109.86 147.23,109.88 145.89,109.92C144.55,109.97 143.21,110.04 141.87,110.13C140.53,110.22 139.20,110.33 137.86,110.47C136.53,110.61 135.20,110.78 133.87,110.97C132.55,111.16 131.22,111.38 129.90,111.62C128.59,111.87 127.27,112.14 125.97,112.44C124.66,112.75 123.36,113.08 122.07,113.44C120.78,113.80 119.49,114.18 118.22,114.60C116.94,115.02 115.68,115.46 114.42,115.94C113.17,116.41 111.93,116.91 110.69,117.44C109.46,117.97 108.24,118.53 107.04,119.12C105.83,119.71 104.64,120.32 103.46,120.96C102.28,121.60 101.12,122.27 99.97,122.96C98.83,123.66 97.70,124.38 96.58,125.13C95.47,125.87 94.37,126.64 93.29,127.44C92.22,128.24 91.16,129.06 90.12,129.91C89.08,130.76 88.07,131.64 87.08,132.54C86.09,133.45 85.13,134.38 84.20,135.35C83.27,136.32 82.36,137.31 81.51,138.34C80.65,139.37 79.82,140.43 79.05,141.52C78.28,142.62 77.54,143.75 76.87,144.91C76.20,146.06 75.58,147.26 75.02,148.47C74.46,149.69 73.95,150.94 73.50,152.20C73.05,153.46 72.66,154.75 72.32,156.04C71.97,157.34 71.69,158.65 71.45,159.97C71.21,161.29 71.03,162.62 70.89,163.95C70.75,165.28 70.66,166.62 70.62,167.96C70.58,169.30 70.58,170.65 70.63,171.98C70.68,173.32 70.77,174.66 70.90,176.00C71.04,177.33 71.21,178.66 71.43,179.98C71.64,181.31 71.90,182.63 72.19,183.93C72.48,185.24 72.82,186.54 73.18,187.83C73.55,189.12 73.96,190.40 74.40,191.66C74.84,192.93 75.32,194.18 75.84,195.42C76.35,196.66 76.90,197.89 77.48,199.09C78.06,200.30 78.67,201.50 79.31,202.67C79.96,203.85 80.63,205.01 81.33,206.15C82.03,207.30 82.76,208.43 83.51,209.54C84.26,210.65 85.04,211.74 85.83,212.82C86.63,213.89 87.45,214.95 88.29,216.00C89.13,217.04 90.00,218.07 90.88,219.08C91.75,220.10 92.65,221.09 93.57,222.07C94.48,223.05 95.41,224.02 96.36,224.97C97.30,225.92 98.26,226.86 99.23,227.79C100.20,228.71 101.19,229.62 102.18,230.52C103.18,231.41 104.19,232.30 105.21,233.17C106.22,234.04 107.25,234.90 108.29,235.75C109.33,236.60 110.38,237.44 111.43,238.26C112.49,239.09 113.55,239.91 114.63,240.71C115.70,241.51 116.78,242.30 117.88,243.08C118.97,243.86 120.07,244.63 121.17,245.39C122.28,246.14 123.39,246.89 124.52,247.62C125.64,248.36 126.77,249.08 127.91,249.79C129.04,250.50 130.19,251.20 131.34,251.89C132.49,252.58 133.65,253.25 134.81,253.92C135.97,254.58 137.14,255.24 138.32,255.88C139.50,256.52 140.68,257.16 141.87,257.78C143.06,258.40 144.25,259.01 145.45,259.61C146.65,260.21 147.85,260.80 149.06,261.38C150.27,261.95 151.49,262.52 152.71,263.08C153.93,263.63 155.15,264.18 156.38,264.72C157.61,265.25 158.84,265.78 160.08,266.30C161.32,266.81 162.56,267.32 163.81,267.81C165.05,268.31 166.30,268.80 167.56,269.27C168.81,269.75 170.07,270.22 171.33,270.67C172.59,271.13 173.85,271.58 175.12,272.02C176.39,272.45 177.66,272.88 178.93,273.30C180.20,273.72 181.48,274.13 182.76,274.54C184.04,274.94 185.32,275.33 186.60,275.71C187.89,276.10 189.18,276.47 190.47,276.84C191.76,277.21 193.05,277.57 194.34,277.92C195.64,278.27 196.93,278.61 198.23,278.94C199.53,279.28 200.83,279.60 202.13,279.92C203.44,280.24 204.74,280.55 206.05,280.85C207.35,281.15 208.66,281.45 209.97,281.74C211.28,282.02 212.59,282.30 213.91,282.57C215.22,282.85 216.53,283.12 217.85,283.37C219.17,283.62 220.48,283.87 221.81,284.08C223.13,284.29 224.46,284.48 225.79,284.62C227.13,284.76 228.47,284.87 229.81,284.90C231.14,284.93 232.49,284.92 233.83,284.83C235.16,284.73 236.50,284.57 237.81,284.32C239.13,284.07 240.45,283.76 241.71,283.32C242.97,282.89 244.28,282.42 245.37,281.69C246.46,280.96 247.55,280.01 248.25,278.92C248.94,277.83 249.43,276.44 249.55,275.16C249.66,273.87 249.34,272.46 248.91,271.22C248.48,269.98 247.71,268.82 246.97,267.71C246.23,266.60 245.34,265.58 244.47,264.56C243.61,263.54 242.69,262.55 241.76,261.59C240.82,260.63 239.86,259.69 238.87,258.79C237.88,257.88 236.87,257.01 235.82,256.17C234.78,255.33 233.70,254.52 232.60,253.76C231.50,253.00 230.37,252.27 229.22,251.58C228.07,250.90 226.89,250.26 225.69,249.66C224.49,249.05 223.27,248.50 222.03,247.98C220.79,247.47 219.54,247.00 218.27,246.57C217.00,246.13 215.06,245.59 214.42,245.39" stroke="#00ff00"/>
<path d="M539.90,487.60C539.85,486.93 539.77,484.92 539.63,483.59C539.48,482.25 539.27,480.93 539.03,479.61C538.79,478.29 538.48,476.98 538.20,475.67C537.92,474.36 537.65,473.05 537.35,471.74C537.06,470.43 536.74,469.13 536.42,467.83C536.10,466.52 535.75,465.23 535.41,463.93C535.07,462.64 534.72,461.34 534.36,460.05C533.99,458.76 533.62,457.47 533.24,456.18C532.85,454.90 532.45,453.62 532.03,452.35C531.62,451.07 531.19,449.80 530.75,448.53C530.32,447.26 529.87,446.00 529.41,444.74C528.95,443.48 528.48,442.22 528.00,440.97C527.52,439.72 527.04,438.47 526.54,437.22C526.04,435.98 525.53,434.74 525.02,433.50C524.51,432.26 524.00,431.02 523.49,429.78C522.97,428.54 522.47,427.30 521.94,426.06C521.42,424.83 520.88,423.60 520.33,422.38C519.78,421.15 519.22,419.94 518.65,418.72C518.08,417.51 517.50,416.30 516.91,415.09C516.32,413.89 515.73,412.69 515.12,411.49C514.52,410.29 513.91,409.10 513.29,407.91C512.67,406.72 512.04,405.53 511.41,404.35C510.78,403.17 510.14,401.99 509.49,400.81C508.85,399.64 508.20,398.46 507.54,397.30C506.88,396.13 506.22,394.96 505.55,393.80C504.88,392.64 504.20,391.48 503.52,390.33C502.84,389.17 502.15,388.02 501.46,386.87C500.76,385.72 500.06,384.58 499.36,383.44C498.66,382.30 497.95,381.15 497.24,380.02C496.53,378.88 495.82,377.74 495.10,376.61C494.38,375.48 493.65,374.35 492.92,373.23C492.19,372.11 491.45,370.99 490.71,369.87C489.96,368.76 489.21,367.65 488.45,366.54C487.69,365.43 486.93,364.33 486.16,363.23C485.39,362.14 484.61,361.04 483.83,359.95C483.05,358.86 482.27,357.77 481.46,356.70C480.66,355.62 479.85,354.55 479.02,353.50C478.19,352.45 477.32,351.43 476.46,350.40C475.60,349.37 474.71,348.36 473.84,347.35C472.96,346.33 472.08,345.32 471.21,344.30C470.33,343.29 469.47,342.26 468.59,341.25C467.72,340.23 466.83,339.22 465.96,338.20C465.09,337.19 464.22,336.16 463.36,335.14C462.49,334.11 461.65,333.07 460.79,332.04C459.93,331.01 459.06,329.99 458.20,328.96C457.33,327.94 456.46,326.92 455.58,325.90C454.71,324.89 453.83,323.87 452.95,322.86C452.07,321.85 451.19,320.84 450.30,319.84C449.41,318.83 448.52,317.83 447.62,316.83C446.73,315.83 445.83,314.84 444.93,313.85C444.02,312.85 443.12,311.86 442.21,310.88C441.30,309.89 440.39,308.91 439.47,307.93C438.56,306.95 437.64,305.97 436.71,305.00C435.79,304.03 434.87,303.06 433.94,302.09C433.01,301.12 432.07,300.16 431.14,299.20C430.20,298.24 429.26,297.28 428.32,296.33C427.38,295.37 426.43,294.42 425.48,293.48C424.53,292.53 423.58,291.59 422.62,290.64C421.67,289.70 420.71,288.77 419.75,287.83C418.78,286.90 417.82,285.97 416.85,285.04C415.88,284.11 414.91,283.19 413.93,282.27C412.96,281.35 411.98,280.43 411.00,279.52C410.02,278.60 409.03,277.69 408.04,276.79C407.05,275.88 406.06,274.98 405.07,274.08C404.08,273.18 403.08,272.28 402.08,271.39C401.08,270.49 400.07,269.60 399.07,268.72C398.06,267.83 397.05,266.95 396.04,266.07C395.03,265.19 394.01,264.32 392.99,263.44C391.97,262.57 390.95,261.70 389.93,260.84C388.90,259.97 387.87,259.11 386.84,258.25C385.81,257.39 384.78,256.54 383.74,255.69C382.70,254.84 381.67,253.99 380.62,253.15C379.58,252.30 378.53,251.46 377.49,250.63C376.44,249.79 375.39,248.96 374.33,248.13C373.28,247.30 372.22,246.48 371.16,245.66C370.10,244.84 369.03,244.02 367.96,243.21C366.90,242.40 365.82,241.59 364.75,240.79C363.67,239.99 362.60,239.19 361.51,238.40C360.43,237.61 359.35,236.82 358.26,236.04C357.17,235.26 356.08,234.48 354.98,233.71C353.88,232.94 352.78,232.17 351.68,231.41C350.57,230.65 349.46,229.89 348.35,229.14C347.24,228.40 346.12,227.65 345.00,226.92C343.88,226.18 342.76,225.45 341.63,224.72C340.50,224.00 339.37,223.28 338.23,222.57C337.09,221.86 335.95,221.15 334.81,220.46C333.66,219.76 332.51,219.07 331.36,218.38C330.20,217.70 329.05,217.02 327.88,216.35C326.72,215.69 325.56,215.02 324.39,214.37C323.22,213.71 322.04,213.06 320.87,212.42C319.69,211.78 318.51,211.14 317.33,210.51C316.14,209.88 314.96,209.25 313.77,208.63C312.58,208.01 311.39,207.39 310.19,206.78C309.00,206.17 307.81,205.56 306.61,204.96C305.41,204.35 304.21,203.75 303.01,203.16C301.81,202.56 300.61,201.97 299.40,201.38C298.20,200.78 296.99,200.20 295.79,199.61C294.58,199.02 293.37,198.44 292.17,197.86C290.96,197.27 289.75,196.69 288.54,196.11C287.33,195.53 286.12,194.96 284.91,194.38C283.70,193.80 282.49,193.22 281.28,192.64C280.07,192.06 278.86,191.48 277.65,190.90C276.44,190.32 275.24,189.74 274.03,189.16C272.82,188.58 271.61,188.00 270.40,187.42C269.19,186.84 267.98,186.26 266.77,185.69C265.56,185.11 264.34,184.54 263.13,183.98C261.91,183.41 260.69,182.85 259.47,182.30C258.25,181.75 257.02,181.20 255.79,180.67C254.56,180.13 253.33,179.60 252.09,179.09C250.85,178.58 249.61,178.07 248.36,177.59C247.11,177.10 245.86,176.62 244.60,176.17C243.34,175.71 242.07,175.27 240.80,174.84C239.53,174.42 238.25,174.01 236.96,173.62C235.68,173.23 234.39,172.86 233.10,172.50C231.81,172.14 230.51,171.79 229.21,171.46C227.92,171.12 226.61,170.80 225.31,170.49C224.00,170.18 222.70,169.88 221.39,169.59C220.08,169.30 218.77,169.02 217.46,168.74C216.14,168.46 214.83,168.20 213.51,167.93C212.20,167.67 210.88,167.41 209.57,167.15C208.25,166.90 206.93,166.65 205.62,166.39C204.30,166.14 202.98,165.89 201.66,165.65C200.34,165.40 199.03,165.16 197.71,164.91C196.39,164.67 195.07,164.44 193.75,164.21C192.43,163.97 191.10,163.75 189.78,163.53C188.46,163.31 187.13,163.09 185.81,162.89C184.48,162.68 183.16,162.48 181.83,162.29C180.50,162.10 179.17,161.92 177.84,161.74C176.51,161.57 175.18,161.41 173.85,161.26C172.52,161.11 171.18,160.97 169.85,160.84C168.51,160.72 167.18,160.60 165.84,160.50C164.50,160.40 163.16,160.31 161.83,160.24C160.49,160.17 159.15,160.12 157.81,160.08C156.47,160.04 155.12,160.01 153.78,160.01C152.44,160.00 151.10,160.01 149.76,160.05C148.42,160.08 147.08,160.13 145.74,160.20C144.40,160.27 143.06,160.36 141.73,160.47C140.39,160.59 139.05,160.72 137.72,160.87C136.39,161.03 135.06,161.20 133.73,161.40C132.41,161.59 131.08,161.81 129.76,162.05C128.44,162.29 127.13,162.55 125.82,162.83C124.51,163.11 123.20,163.41 121.90,163.74C120.60,164.06 119.30,164.41 118.01,164.78C116.72,165.15 115.44,165.54 114.17,165.96C112.89,166.37 111.62,166.81 110.36,167.27C109.10,167.73 107.85,168.21 106.61,168.72C105.37,169.22 104.14,169.75 102.91,170.31C101.69,170.86 100.48,171.44 99.28,172.04C98.08,172.64 96.90,173.26 95.72,173.91C94.55,174.56 93.39,175.23 92.24,175.92C91.09,176.62 89.96,177.34 88.84,178.08C87.73,178.83 86.63,179.59 85.54,180.38C84.46,181.17 83.39,181.99 82.35,182.82C81.30,183.66 80.26,184.51 79.26,185.41C78.27,186.31 77.27,187.21 76.38,188.22C75.50,189.22 74.70,190.30 73.95,191.41C73.21,192.53 72.58,193.72 71.94,194.90C71.30,196.07 70.67,197.26 70.10,198.47C69.54,199.69 69.00,200.92 68.55,202.18C68.10,203.45 67.72,204.74 67.41,206.04C67.11,207.35 66.89,208.67 66.73,210.00C66.57,211.33 66.49,212.68 66.47,214.02C66.45,215.36 66.50,216.70 66.60,218.04C66.70,219.37 66.87,220.71 67.09,222.03C67.31,223.35 67.59,224.67 67.91,225.97C68.23,227.27 68.61,228.56 69.03,229.83C69.44,231.10 69.91,232.36 70.42,233.61C70.92,234.85 71.47,236.07 72.06,237.28C72.65,238.48 73.28,239.67 73.95,240.83C74.61,241.99 75.32,243.14 76.05,244.26C76.78,245.38 77.56,246.48 78.35,247.56C79.15,248.63 79.98,249.69 80.84,250.72C81.70,251.75 82.58,252.76 83.49,253.74C84.40,254.73 85.33,255.69 86.29,256.64C87.24,257.58 88.22,258.50 89.22,259.40C90.21,260.29 91.23,261.17 92.26,262.02C93.29,262.88 94.34,263.71 95.41,264.53C96.48,265.34 97.56,266.13 98.66,266.90C99.75,267.68 100.86,268.43 101.98,269.16C103.11,269.90 104.24,270.61 105.39,271.31C106.53,272.01 107.68,272.70 108.84,273.38C109.99,274.06 111.15,274.73 112.31,275.41C113.47,276.09 114.63,276.76 115.78,277.45C116.93,278.14 118.08,278.82 119.22,279.54C120.35,280.25 121.47,280.99 122.59,281.73C123.71,282.46 124.80,283.25 125.94,283.95C127.08,284.66 128.25,285.33 129.42,285.97C130.60,286.61 131.80,287.21 133.01,287.80C134.22,288.38 135.44,288.93 136.67,289.46C137.90,290.00 139.14,290.51 140.38,291.01C141.62,291.52 142.88,292.00 144.13,292.48C145.38,292.97 146.63,293.44 147.89,293.91C149.15,294.38 150.40,294.85 151.66,295.31C152.92,295.77 154.18,296.23 155.44,296.68C156.70,297.14 157.97,297.58 159.23,298.03C160.50,298.47 161.77,298.91 163.04,299.34C164.30,299.78 165.58,300.20 166.85,300.63C168.12,301.05 169.40,301.46 170.67,301.87C171.95,302.28 173.23,302.69 174.51,303.08C175.79,303.48 177.08,303.87 178.36,304.25C179.65,304.63 180.93,305.01 182.22,305.38C183.51,305.74 184.81,306.10 186.10,306.46C187.39,306.81 188.69,307.15 189.99,307.49C191.29,307.82 192.59,308.15 193.89,308.47C195.19,308.78 196.50,309.09 197.81,309.39C199.11,309.69 200.42,309.98 201.73,310.27C203.04,310.55 204.36,310.82 205.67,311.08C206.99,311.34 208.31,311.59 209.63,311.83C210.95,312.06 212.27,312.29 213.59,312.49C214.92,312.69 216.25,312.87 217.58,313.03C218.91,313.18 220.25,313.32 221.59,313.41C222.92,313.51 224.26,313.58 225.60,313.61C226.94,313.64 228.29,313.64 229.63,313.59C230.97,313.54 232.31,313.46 233.64,313.32C234.97,313.18 236.30,313.00 237.62,312.77C238.94,312.54 240.26,312.26 241.56,311.92C242.85,311.58 244.19,311.29 245.40,310.73C246.60,310.17 247.93,309.54 248.76,308.59C249.60,307.64 250.32,306.25 250.42,305.02C250.51,303.78 249.92,302.37 249.35,301.19C248.78,300.01 247.87,298.94 247.00,297.93C246.13,296.92 245.13,296.00 244.13,295.12C243.12,294.24 242.03,293.44 240.96,292.64C239.88,291.84 238.79,291.07 237.68,290.31C236.57,289.56 235.45,288.82 234.31,288.11C233.18,287.40 232.02,286.71 230.86,286.05C229.69,285.39 227.90,284.48 227.30,284.16" stroke="#0000ff"/>
<path d="M539.90,487.60C539.83,486.93 539.65,484.92 539.45,483.60C539.24,482.27 538.98,480.95 538.70,479.64C538.42,478.33 538.07,477.03 537.76,475.72C537.45,474.41 537.15,473.10 536.83,471.80C536.51,470.49 536.18,469.19 535.84,467.89C535.50,466.59 535.15,465.30 534.79,464.00C534.44,462.71 534.09,461.41 533.72,460.12C533.36,458.83 532.99,457.53 532.60,456.25C532.21,454.96 531.81,453.68 531.40,452.40C531.00,451.12 530.57,449.85 530.14,448.57C529.71,447.30 529.27,446.03 528.82,444.77C528.37,443.50 527.91,442.24 527.44,440.98C526.97,439.72 526.48,438.47 525.99,437.22C525.50,435.97 524.99,434.73 524.49,433.48C523.98,432.24 523.47,431.00 522.95,429.76C522.44,428.52 521.93,427.28 521.40,426.04C520.87,424.81 520.32,423.58 519.78,422.35C519.24,421.12 518.70,419.89 518.15,418.67C517.59,417.44 517.05,416.22 516.47,415.00C515.89,413.79 515.29,412.59 514.66,411.40C514.03,410.22 513.36,409.05 512.69,407.89C512.02,406.73 511.33,405.57 510.64,404.42C509.94,403.27 509.24,402.13 508.53,400.99C507.82,399.85 507.10,398.72 506.37,397.59C505.64,396.46 504.90,395.34 504.16,394.22C503.41,393.10 502.66,391.99 501.89,390.88C501.13,389.78 500.36,388.68 499.59,387.58C498.81,386.49 498.02,385.40 497.23,384.31C496.44,383.23 495.64,382.15 494.83,381.08C494.02,380.00 493.20,378.94 492.38,377.88C491.56,376.81 490.73,375.76 489.89,374.71C489.06,373.66 488.21,372.61 487.36,371.57C486.51,370.53 485.65,369.50 484.79,368.47C483.93,367.44 483.06,366.42 482.18,365.40C481.30,364.39 480.42,363.37 479.53,362.37C478.64,361.36 477.74,360.36 476.84,359.37C475.93,358.37 475.02,357.39 474.11,356.40C473.19,355.42 472.27,354.44 471.34,353.47C470.42,352.50 469.48,351.53 468.54,350.57C467.61,349.61 466.66,348.66 465.71,347.71C464.76,346.76 463.80,345.82 462.84,344.88C461.88,343.94 460.91,343.01 459.94,342.09C458.97,341.16 457.99,340.24 457.00,339.32C456.02,338.41 455.03,337.50 454.04,336.60C453.04,335.69 452.05,334.79 451.04,333.90C450.04,333.01 449.03,332.12 448.02,331.24C447.00,330.36 445.98,329.48 444.96,328.61C443.94,327.74 442.91,326.88 441.88,326.02C440.85,325.16 439.81,324.31 438.77,323.46C437.73,322.61 436.68,321.77 435.63,320.93C434.58,320.09 433.53,319.26 432.47,318.43C431.41,317.60 430.35,316.78 429.28,315.96C428.22,315.15 427.15,314.33 426.07,313.53C425.00,312.72 423.92,311.92 422.84,311.12C421.76,310.33 420.67,309.54 419.59,308.75C418.50,307.96 417.40,307.18 416.31,306.40C415.21,305.63 414.11,304.86 413.01,304.09C411.91,303.32 410.80,302.56 409.69,301.80C408.58,301.05 407.47,300.29 406.36,299.55C405.24,298.80 404.12,298.06 403.00,297.32C401.88,296.58 400.75,295.84 399.62,295.12C398.50,294.39 397.37,293.66 396.23,292.94C395.10,292.22 393.96,291.50 392.82,290.79C391.68,290.08 390.54,289.37 389.40,288.67C388.25,287.97 387.11,287.27 385.96,286.57C384.81,285.88 383.66,285.19 382.50,284.50C381.35,283.81 380.19,283.13 379.03,282.45C377.87,281.78 376.71,281.10 375.55,280.43C374.38,279.76 373.21,279.10 372.05,278.44C370.88,277.77 369.71,277.12 368.53,276.46C367.36,275.81 366.18,275.16 365.00,274.52C363.82,273.87 362.64,273.23 361.46,272.60C360.28,271.96 359.09,271.33 357.90,270.71C356.71,270.08 355.52,269.46 354.33,268.84C353.14,268.22 351.94,267.61 350.75,267.00C349.55,266.39 348.35,265.79 347.15,265.19C345.94,264.59 344.74,264.00 343.53,263.41C342.33,262.82 341.12,262.23 339.91,261.65C338.69,261.07 337.48,260.50 336.26,259.93C335.05,259.36 333.83,258.79 332.61,258.23C331.39,257.67 330.17,257.12 328.94,256.57C327.72,256.01 326.49,255.47 325.26,254.93C324.03,254.39 322.80,253.85 321.56,253.32C320.33,252.79 319.09,252.27 317.86,251.75C316.62,251.23 315.38,250.71 314.13,250.20C312.89,249.69 311.65,249.19 310.40,248.69C309.15,248.19 307.90,247.70 306.65,247.21C305.40,246.72 304.15,246.24 302.89,245.76C301.64,245.28 300.38,244.81 299.12,244.34C297.86,243.88 296.60,243.42 295.33,242.96C294.07,242.51 292.81,242.06 291.54,241.61C290.27,241.17 289.00,240.73 287.73,240.30C286.46,239.87 285.18,239.44 283.91,239.02C282.63,238.60 281.35,238.19 280.07,237.78C278.80,237.37 277.51,236.97 276.23,236.57C274.95,236.17 273.66,235.78 272.37,235.40C271.09,235.02 269.80,234.64 268.51,234.27C267.22,233.89 265.93,233.53 264.63,233.17C263.34,232.81 262.04,232.46 260.74,232.11C259.45,231.76 258.15,231.42 256.85,231.09C255.54,230.76 254.24,230.43 252.94,230.11C251.63,229.79 250.33,229.48 249.02,229.17C247.71,228.86 246.40,228.56 245.09,228.27C243.78,227.97 242.47,227.69 241.16,227.41C239.84,227.13 238.53,226.85 237.21,226.59C235.89,226.32 234.58,226.06 233.26,225.81C231.94,225.56 230.62,225.31 229.30,225.07C227.97,224.84 226.65,224.60 225.33,224.38C224.00,224.16 222.68,223.94 221.35,223.73C220.02,223.52 218.69,223.32 217.37,223.13C216.04,222.93 214.71,222.74 213.38,222.56C212.04,222.38 210.71,222.21 209.38,222.05C208.05,221.88 206.71,221.73 205.38,221.58C204.04,221.43 202.71,221.29 201.37,221.15C200.03,221.02 198.70,220.89 197.36,220.77C196.02,220.65 194.68,220.54 193.34,220.44C192.00,220.34 190.66,220.24 189.32,220.16C187.98,220.07 186.64,219.99 185.30,219.92C183.96,219.85 182.62,219.79 181.28,219.73C179.94,219.68 178.59,219.63 177.25,219.59C175.91,219.55 174.56,219.52 173.22,219.50C171.88,219.48 170.54,219.47 169.19,219.46C167.85,219.45 166.51,219.46 165.16,219.47C163.82,219.48 162.48,219.50 161.13,219.53C159.79,219.56 158.45,219.59 157.11,219.64C155.76,219.68 154.42,219.74 153.08,219.80C151.74,219.86 150.40,219.93 149.06,220.01C147.72,220.09 146.38,220.18 145.04,220.27C143.70,220.37 142.36,220.48 141.02,220.59C139.68,220.70 138.34,220.83 137.01,220.96C135.67,221.09 134.33,221.23 133.00,221.38C131.66,221.53 130.33,221.69 129.00,221.86C127.67,222.03 126.34,222.21 125.01,222.41C123.68,222.60 122.35,222.81 121.03,223.03C119.70,223.25 118.38,223.49 117.06,223.74C115.74,224.00 114.42,224.26 113.11,224.55C111.80,224.84 110.49,225.14 109.19,225.46C107.88,225.78 106.58,226.13 105.29,226.49C104.00,226.85 102.71,227.23 101.43,227.64C100.15,228.04 98.87,228.47 97.61,228.92C96.34,229.37 95.09,229.84 93.84,230.34C92.59,230.84 91.35,231.36 90.13,231.91C88.90,232.45 87.69,233.03 86.48,233.63C85.28,234.23 84.09,234.85 82.92,235.50C81.75,236.16 80.59,236.84 79.44,237.54C78.30,238.25 77.18,238.98 76.07,239.75C74.97,240.51 73.88,241.30 72.82,242.13C71.77,242.96 70.73,243.82 69.73,244.71C68.73,245.61 67.76,246.54 66.83,247.50C65.90,248.47 65.00,249.48 64.16,250.53C63.33,251.57 62.52,252.66 61.79,253.78C61.06,254.91 60.38,256.07 59.78,257.27C59.18,258.47 58.64,259.71 58.18,260.97C57.73,262.23 57.34,263.52 57.05,264.83C56.76,266.14 56.54,267.47 56.43,268.81C56.32,270.14 56.29,271.50 56.38,272.83C56.47,274.17 56.67,275.51 56.98,276.81C57.29,278.11 57.73,279.40 58.24,280.64C58.75,281.88 59.36,283.08 60.02,284.25C60.68,285.41 61.43,286.54 62.21,287.63C62.99,288.72 63.83,289.77 64.70,290.79C65.57,291.81 66.49,292.80 67.43,293.76C68.37,294.71 69.35,295.64 70.35,296.54C71.34,297.44 72.37,298.30 73.42,299.15C74.46,299.99 75.53,300.81 76.61,301.60C77.69,302.40 78.79,303.17 79.90,303.93C81.01,304.69 82.13,305.43 83.26,306.15C84.39,306.88 85.53,307.59 86.68,308.29C87.82,308.99 88.98,309.67 90.14,310.34C91.31,311.01 92.48,311.66 93.66,312.31C94.84,312.95 96.03,313.58 97.22,314.19C98.41,314.81 99.61,315.41 100.82,316.00C102.03,316.59 103.24,317.17 104.46,317.74C105.68,318.31 106.90,318.86 108.13,319.40C109.36,319.94 110.59,320.48 111.83,321.00C113.07,321.52 114.31,322.02 115.56,322.52C116.80,323.02 118.06,323.51 119.31,323.98C120.57,324.46 121.83,324.93 123.09,325.39C124.35,325.84 125.62,326.29 126.89,326.73C128.16,327.17 129.43,327.60 130.71,328.02C131.98,328.44 133.26,328.85 134.54,329.26C135.82,329.66 137.10,330.06 138.39,330.44C139.68,330.83 140.96,331.21 142.25,331.59C143.55,331.96 144.84,332.32 146.13,332.68C147.43,333.04 148.72,333.39 150.02,333.74C151.32,334.08 152.62,334.42 153.92,334.75C155.22,335.09 156.52,335.41 157.83,335.74C159.13,336.06 160.44,336.37 161.74,336.68C163.05,336.99 164.36,337.30 165.67,337.60C166.98,337.90 168.29,338.20 169.60,338.49C170.91,338.78 172.22,339.07 173.53,339.35C174.85,339.64 176.16,339.92 177.47,340.20C178.79,340.47 180.10,340.74 181.42,341.01C182.74,341.27 184.05,341.53 185.37,341.79C186.69,342.04 188.01,342.28 189.34,342.51C190.66,342.75 191.98,342.97 193.31,343.19C194.64,343.40 195.96,343.61 197.29,343.80C198.62,343.99 199.95,344.17 201.29,344.33C202.62,344.49 203.95,344.64 205.29,344.78C206.63,344.91 207.96,345.03 209.30,345.14C210.64,345.24 211.98,345.33 213.32,345.40C214.67,345.47 216.01,345.52 217.35,345.55C218.69,345.59 220.04,345.60 221.38,345.60C222.72,345.59 224.07,345.57 225.41,345.53C226.75,345.48 228.09,345.42 229.43,345.34C230.77,345.25 232.11,345.15 233.45,345.03C234.79,344.90 236.14,344.82 237.46,344.59C238.77,344.36 240.19,344.21 241.36,343.65C242.54,343.09 243.85,342.28 244.52,341.25C245.19,340.21 245.63,338.56 245.38,337.42C245.12,336.27 243.39,334.87 242.99,334.36" stroke="#ff0000" stroke-dasharray="9.515 2.836"/>
</g>
<g stroke="#6e6e6e" stroke-width="1" fill="none">
<rect x="54.5" y="0.5" width="495.5" height="496.0"/>
<path d="M64.00,496.5v-3.2M64.00,0.5v3.2M86.67,496.5v-5.5M86.67,0.5v5.5M109.34,496.5v-3.2M109.34,0.5v3.2M132.00,496.5v-3.2M132.00,0.5v3.2M154.67,496.5v-3.2M154.67,0.5v3.2M177.34,496.5v-3.2M177.34,0.5v3.2M200.00,496.5v-5.5M200.00,0.5v5.5M222.67,496.5v-3.2M222.67,0.5v3.2M245.34,496.5v-3.2M245.34,0.5v3.2M268.01,496.5v-3.2M268.01,0.5v3.2M290.67,496.5v-3.2M290.67,0.5v3.2M313.34,496.5v-5.5M313.34,0.5v5.5M336.01,496.5v-3.2M336.01,0.5v3.2M358.67,496.5v-3.2M358.67,0.5v3.2M381.34,496.5v-3.2M381.34,0.5v3.2M404.01,496.5v-3.2M404.01,0.5v3.2M426.67,496.5v-5.5M426.67,0.5v5.5M449.34,496.5v-3.2M449.34,0.5v3.2M472.01,496.5v-3.2M472.01,0.5v3.2M494.68,496.5v-3.2M494.68,0.5v3.2M517.34,496.5v-3.2M517.34,0.5v3.2M540.01,496.5v-5.5M540.01,0.5v5.5M54.5,486.50h5.5M550.0,486.50h-5.5M54.5,455.70h3.2M550.0,455.70h-3.2M54.5,424.90h3.2M550.0,424.90h-3.2M54.5,394.10h3.2M550.0,394.10h-3.2M54.5,363.30h3.2M550.0,363.30h-3.2M54.5,332.50h5.5M550.0,332.50h-5.5M54.5,301.70h3.2M550.0,301.70h-3.2M54.5,270.90h3.2M550.0,270.90h-3.2M54.5,240.10h3.2M550.0,240.10h-3.2M54.5,209.30h3.2M550.0,209.30h-3.2M54.5,178.50h5.5M550.0,178.50h-5.5M54.5,147.70h3.2M550.0,147.70h-3.2M54.5,116.90h3.2M550.0,116.90h-3.2M54.5,86.10h3.2M550.0,86.10h-3.2M54.5,55.30h3.2M550.0,55.30h-3.2M54.5,24.50h5.5M550.0,24.50h-5.5"/>
</g>
<g font-family="Liberation Sans, sans-serif" font-size="15.5" fill="#707070">
<text x="86.67" y="516.8" text-anchor="middle">0.80</text>
<text x="200.00" y="516.8" text-anchor="middle">0.85</text>
<text x="313.34" y="516.8" text-anchor="middle">0.90</text>
<text x="426.67" y="516.8" text-anchor="middle">0.95</text>
<text x="540.01" y="516.8" text-anchor="middle">1.00</text>
<text x="49.4" y="492.10" text-anchor="end">0.0</text>
<text x="49.4" y="338.10" text-anchor="end">0.5</text>
<text x="49.4" y="184.10" text-anchor="end">1.0</text>
<text x="49.4" y="30.10" text-anchor="end">1.5</text>
</g>
<g font-family="Liberation Sans, sans-serif" font-size="14" fill="#6a6a6a">
<text x="303" y="544.2" text-anchor="middle" letter-spacing="1.2" font-style="italic">ω/μ</text>
<g transform="translate(16,259.1) rotate(-90)"><text font-size="16" transform="scale(1.04,1)" x="0" y="0">M</text><text transform="translate(14.3,0) scale(1.15,1)" x="0" y="0" font-size="14" font-style="italic">μ</text></g>
</g>
<g fill="none" stroke-width="5" stroke-dasharray="10.5 2.05">
<path d="M407.1,29.2H442.7" stroke="#ff0000"/>
<path d="M407.1,48.4H442.7" stroke="#0000ff"/>
<path d="M407.1,66.5H442.7" stroke="#00ff00"/>
<path d="M407.1,83.3H442.7" stroke="#000000"/>
<path d="M407.1,99.7H442.7" stroke="#800080"/>
</g>
<g font-family="Liberation Sans, sans-serif" font-size="14.9" word-spacing="0.7" fill="#1a1a1a">
<text x="456.6" y="34.8">Λ = 100</text>
<text x="456.6" y="52.7">Λ = 200</text>
<text x="456.6" y="70.6">Λ = 300</text>
<text x="456.6" y="87.2">Λ = 400</text>
<text x="456.6" y="104.7">Λ = 500</text>
</g>
</svg>
</body></html>
